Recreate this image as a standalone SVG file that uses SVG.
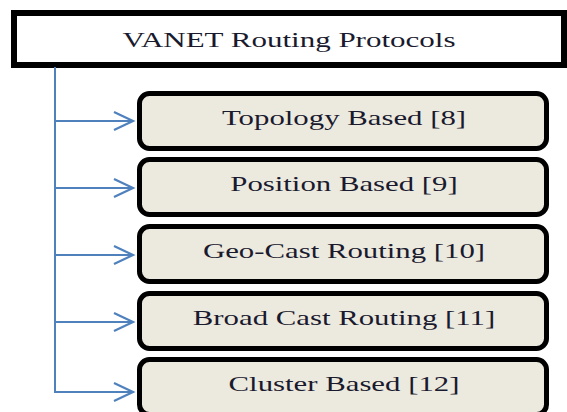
<svg xmlns="http://www.w3.org/2000/svg" width="567" height="412" viewBox="0 0 567 412">
<style>
.box{fill:#ECE9DF;stroke:#000;stroke-width:5}
.t{font-family:"Liberation Serif","Times New Roman",serif;font-size:22px;fill:#1a1a2e;text-anchor:middle}
.c{stroke:#4F81BD;stroke-width:2;fill:none}
</style>
<defs>
<marker id="ah" markerUnits="userSpaceOnUse" markerWidth="24" markerHeight="24" refX="20" refY="10" orient="auto" viewBox="0 0 24 20">
<path d="M1,1 L20,10 L1,19" fill="none" stroke="#4F81BD" stroke-width="2.2"/>
</marker>
</defs>
<rect width="567" height="412" fill="#fff"/>
<g id="root">
<rect x="14" y="13" width="550" height="52" fill="#fff" stroke="#000" stroke-width="6"/>
<text class="t" transform="translate(289,47) scale(1.41,1)" font-size="23">VANET Routing Protocols</text>
</g>
<g id="n1">
<rect class="box" x="139.5" y="93.5" width="407" height="55" rx="10"/>
<text class="t" transform="translate(344,125) scale(1.4,1)">Topology Based [8]</text>
</g>
<g id="n2">
<rect class="box" x="139.5" y="159.5" width="407" height="55" rx="10"/>
<text class="t" transform="translate(344,191) scale(1.4,1)">Position Based [9]</text>
</g>
<g id="n3">
<rect class="box" x="139.5" y="226.5" width="407" height="55" rx="10"/>
<text class="t" transform="translate(344,258) scale(1.4,1)">Geo-Cast Routing [10]</text>
</g>
<g id="n4">
<rect class="box" x="139.5" y="293.5" width="407" height="55" rx="10"/>
<text class="t" transform="translate(344,325) scale(1.4,1)">Broad Cast Routing [11]</text>
</g>
<g id="n5">
<rect class="box" x="139.5" y="359.5" width="407" height="55" rx="10"/>
<text class="t" transform="translate(344,391) scale(1.4,1)">Cluster Based [12]</text>
</g>
<g id="connectors">
<line class="c" x1="55" y1="67" x2="55" y2="393"/>
<line class="c" x1="54" y1="121" x2="133" y2="121" marker-end="url(#ah)"/>
<line class="c" x1="54" y1="188" x2="133" y2="188" marker-end="url(#ah)"/>
<line class="c" x1="54" y1="255" x2="133" y2="255" marker-end="url(#ah)"/>
<line class="c" x1="54" y1="322" x2="133" y2="322" marker-end="url(#ah)"/>
<line class="c" x1="54" y1="392" x2="133" y2="392" marker-end="url(#ah)"/>
</g>
</svg>
